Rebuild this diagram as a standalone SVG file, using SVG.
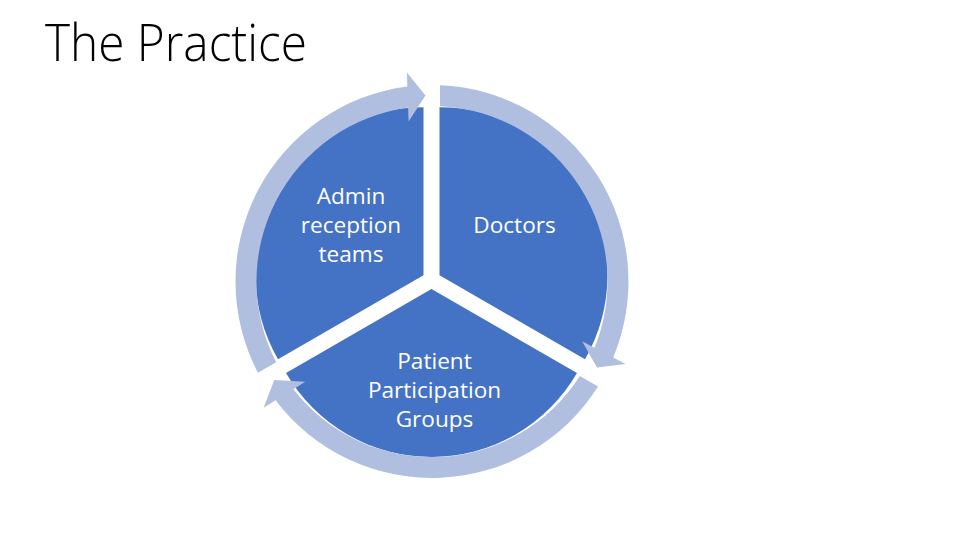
<svg xmlns="http://www.w3.org/2000/svg" width="960" height="540" viewBox="0 0 960 540">
<style>
.wedge{fill:#4472C4}
.ring{fill:#B0BEE0}
.lbl{font-family:"Open Sans","Liberation Sans",sans-serif;font-size:22.6px;fill:#FFFFFF;text-anchor:middle}
.title{font-family:"Open Sans","Liberation Sans",sans-serif;font-weight:300;font-size:52px;fill:#000000}
</style>
<rect width="960" height="540" fill="#FFFFFF"/>
<text class="title" x="45" y="61" textLength="262" lengthAdjust="spacingAndGlyphs">The Practice</text>
<g id="node-doctors">
<path class="wedge" d="M 439.5 275.18 L 439.5 107.18 A 168 168 0 0 1 584.99 359.18 Z"/>
<text class="lbl" x="514.5" y="233">Doctors</text>
</g>
<g id="node-ppg">
<path class="wedge" d="M 431.5 289.04 L 576.99 373.04 A 168 168 0 0 1 286.01 373.04 Z"/>
<text class="lbl" x="434.5" y="369">Patient</text>
<text class="lbl" x="434.5" y="398">Participation</text>
<text class="lbl" x="434.5" y="427">Groups</text>
</g>
<g id="node-admin">
<path class="wedge" d="M 423.5 275.18 L 278.01 359.18 A 168 168 0 0 1 423.5 107.18 Z"/>
<text class="lbl" x="351" y="204">Admin</text>
<text class="lbl" x="351" y="233">reception</text>
<text class="lbl" x="351" y="262">teams</text>
</g>
<g id="connectors">
<path class="ring" d="M 440 85.16 A 196.5 196.5 0 0 1 613.15 357.53 L 625.57 363.99 L 596.98 367.38 L 582.11 341.37 L 594.53 347.83 A 175.5 175.5 0 0 0 440 106.18 Z"/>
<path class="ring" d="M 598.04 386.6 A 196.5 196.5 0 0 1 275.54 400.29 L 263.66 407.71 L 274.26 380.07 L 305.22 381.75 L 293.34 389.17 A 175.5 175.5 0 0 0 579.83 376.09 Z"/>
<path class="ring" d="M 257.96 372.74 A 196.5 196.5 0 0 1 407.35 86.6 L 406.87 72.6 L 425.51 95.61 L 408.58 121.58 L 408.09 107.58 A 175.5 175.5 0 0 0 276.17 362.23 Z"/>
</g>
</svg>
